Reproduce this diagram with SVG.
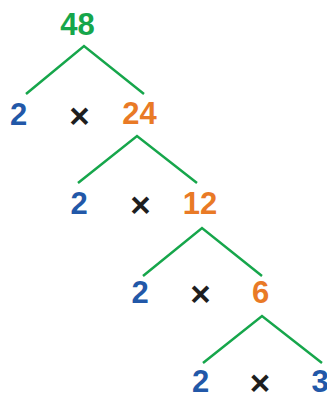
<svg xmlns="http://www.w3.org/2000/svg" width="327" height="395" viewBox="0 0 327 395">
<style>
text{font-family:"Liberation Sans",Arial,sans-serif;font-weight:bold;text-anchor:middle}
.n{font-size:31px}
.g{fill:#16a64b}
.b{fill:#2258a8}
.o{fill:#e97a26}
.x{font-size:35px;fill:#1e1e1e}
.ln{fill:none;stroke:#16a64b;stroke-width:2.5;stroke-linejoin:miter}
</style>
<g id="connectors">
<polyline class="ln" points="26,94 84,46 144,94"/>
<polyline class="ln" points="78,183 137,136 197,183"/>
<polyline class="ln" points="143,276 202,228 262,276"/>
<polyline class="ln" points="203,363 262,316 322,363"/>
</g>
<g id="n48"><text class="n g" x="77.5" y="35">48</text></g>
<g id="row1">
<text class="n b" x="18.5" y="125">2</text>
<text class="x" x="79.5" y="128">×</text>
<text class="n o" x="139.5" y="124">24</text>
</g>
<g id="row2">
<text class="n b" x="79" y="214">2</text>
<text class="x" x="140.5" y="217">×</text>
<text class="n o" x="200" y="214">12</text>
</g>
<g id="row3">
<text class="n b" x="140" y="303">2</text>
<text class="x" x="200.5" y="306">×</text>
<text class="n o" x="260.5" y="303">6</text>
</g>
<g id="row4">
<text class="n b" x="200.5" y="392">2</text>
<text class="x" x="260" y="395">×</text>
<text class="n b" x="320" y="392">3</text>
</g>
</svg>
